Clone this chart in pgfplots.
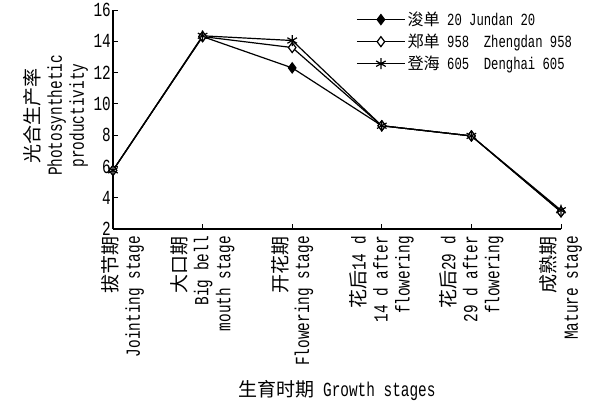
\documentclass[border=0pt]{standalone}
\usepackage{fontspec}
\setmainfont{Liberation Mono}[FakeStretch=0.72]
\newfontfamily\cjk{Noto Sans CJK SC}[Scale=0.95]
\usepackage{pgfplots}
\pgfplotsset{compat=1.18}
\begin{document}
\begin{tikzpicture}
\begin{axis}[name=ax, scale only axis, width=448pt, height=219pt,
  xmin=0, xmax=5, ymin=2, ymax=16, ytick={2,4,...,16},
  xtick={1,2,3,4,5},
  xticklabels={
    {{\cjk 大口期}\\Big bell\\mouth stage},
    {{\cjk 开花期}\\Flowering stage},
    {{\cjk 花后}14 d\\14 d after\\flowering},
    {{\cjk 花后}29 d\\29 d after\\flowering},
    {{\cjk 成熟期}\\Mature stage}},
  extra x ticks={0},
  extra x tick labels={{{\cjk 拔节期}\\Jointing stage}},
  extra x tick style={xticklabel style={yshift=-10pt}},
  axis lines=left, axis line style={-, line width=1.1pt},
  tick align=inside, major tick length=5pt,
  tick style={black, line width=0.9pt},
  /pgf/number format/assume math mode=true,
  ticklabel style={font=\fontsize{20}{22}\selectfont},
  yticklabel style={inner sep=2pt},
  xticklabel shift=6pt,
  xticklabel style={rotate=90, anchor=east, align=right, inner sep=1pt},
  ylabel={{\cjk 光合生产率}\\Photosynthetic\\productivity},
  ylabel style={align=center, font=\fontsize{20}{22}\selectfont, xshift=4pt},
  xlabel={{\cjk 生育时期} Growth stages},
  xlabel style={font=\fontsize{20}{22}\selectfont, yshift=2pt},
  clip=false,
  legend style={at={(0.536,1.01)}, anchor=north west, draw=none, fill=none,
    font=\fontsize{17}{21.5}\selectfont, row sep=3pt, cells={anchor=west}},
  legend image code/.code={\draw[mark repeat=2,mark phase=2] plot coordinates {(0pt,0pt)(24pt,0pt)(48pt,0pt)};},
]
\addplot[black, line width=1.2pt, mark=diamond*, mark size=5pt, mark options={fill=black, solid}]
  coordinates {(0,5.75)(1,14.3)(2,12.3)(3,8.6)(4,7.95)(5,3.1)};
\addlegendentry{{\cjk 浚单} 20 Jundan 20}
\addplot[black, line width=1.2pt, mark=diamond*, mark size=5pt, mark options={fill=white, solid}]
  coordinates {(0,5.75)(1,14.3)(2,13.6)(3,8.6)(4,7.95)(5,3.1)};
\addlegendentry{{\cjk 郑单} 958\ \ Zhengdan 958}
\addplot[black, line width=1.2pt, mark=asterisk, mark size=5.5pt, mark options={solid}]
  coordinates {(0,5.75)(1,14.35)(2,14.05)(3,8.6)(4,7.95)(5,3.2)};
\addlegendentry{{\cjk 登海} 605\ \ Denghai 605}
\end{axis}
\path (ax.south west) ++(-113pt,-174pt) rectangle ([xshift=31pt,yshift=10pt]ax.north east);
\end{tikzpicture}
\end{document}
